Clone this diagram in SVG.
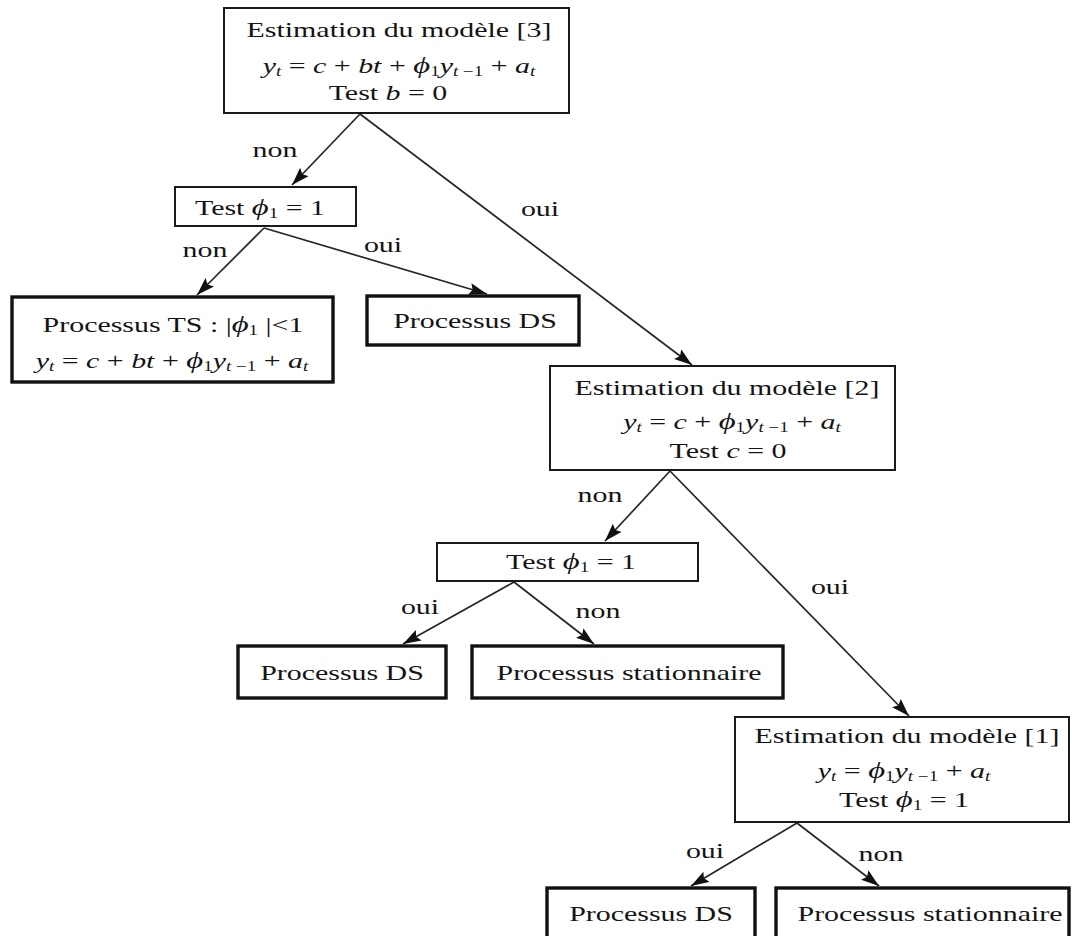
<svg xmlns="http://www.w3.org/2000/svg" width="1072" height="936" viewBox="0 0 1072 936">
<style>
text{font-family:"Liberation Serif","Times New Roman",serif;font-size:22px;fill:#141414;text-anchor:middle}
.i{font-style:italic}
.s{font-size:14px}
.p{font-size:24px;font-style:italic}
.box{fill:#fff;stroke:#1a1a1a;stroke-width:2}
.res{fill:#fff;stroke:#111;stroke-width:3.4}
.c{stroke:#262626;stroke-width:1.7;fill:none;marker-end:url(#ah)}
</style>
<defs>
<marker id="ah" markerUnits="userSpaceOnUse" markerWidth="20" markerHeight="14" refX="18" refY="6" orient="auto">
<path d="M0,0 L18,6 L0,12 L3,6 z" fill="#111"/>
</marker>
</defs>
<rect width="1072" height="936" fill="#fff"/>

<g id="connectors">
<line class="c" x1="360" y1="114" x2="292" y2="185"/>
<line class="c" x1="360" y1="114" x2="692" y2="365"/>
<line class="c" x1="264" y1="228" x2="197" y2="295"/>
<line class="c" x1="264" y1="228" x2="487" y2="294"/>
<line class="c" x1="670" y1="471" x2="605" y2="541"/>
<line class="c" x1="670" y1="471" x2="909" y2="716"/>
<line class="c" x1="514" y1="582" x2="403" y2="644"/>
<line class="c" x1="514" y1="582" x2="594" y2="644"/>
<line class="c" x1="797" y1="823" x2="691" y2="886"/>
<line class="c" x1="797" y1="823" x2="879" y2="886"/>
</g>

<g id="labels">
<text transform="translate(275,157) scale(1.36,1)">non</text>
<text transform="translate(540,216) scale(1.36,1)">oui</text>
<text transform="translate(205,257) scale(1.36,1)">non</text>
<text transform="translate(383,252) scale(1.36,1)">oui</text>
<text transform="translate(600,502) scale(1.36,1)">non</text>
<text transform="translate(830,594) scale(1.36,1)">oui</text>
<text transform="translate(420,614) scale(1.36,1)">oui</text>
<text transform="translate(598,618) scale(1.36,1)">non</text>
<text transform="translate(705,858) scale(1.36,1)">oui</text>
<text transform="translate(881,861) scale(1.36,1)">non</text>
</g>

<g id="model3">
<rect class="box" x="224" y="8" width="345" height="105"/>
<text transform="translate(399,37) scale(1.36,1)">Estimation du modèle [3]</text>
<text transform="translate(399,73) scale(1.36,1)"><tspan class="i">y</tspan><tspan class="s i" dy="3">t</tspan><tspan dy="-3"> = </tspan><tspan class="i">c</tspan> + <tspan class="i">bt</tspan> + <tspan class="p">ϕ</tspan><tspan class="s" dy="3">1</tspan><tspan class="i" dy="-3">y</tspan><tspan class="s" dy="3"><tspan class="i">t</tspan> −1</tspan><tspan dy="-3"> + </tspan><tspan class="i">a</tspan><tspan class="s i" dy="3">t</tspan></text>
<text transform="translate(388,100) scale(1.36,1)">Test <tspan class="i">b</tspan> = 0</text>
</g>

<g id="test1">
<rect class="box" x="175" y="187" width="181" height="39"/>
<text transform="translate(260,215) scale(1.36,1)">Test <tspan class="p">ϕ</tspan><tspan class="s" dy="3">1</tspan><tspan dy="-3"> = 1</tspan></text>
</g>

<g id="ts">
<rect class="res" x="12" y="297" width="321" height="85"/>
<text transform="translate(173,332) scale(1.36,1)">Processus TS : |<tspan class="p">ϕ</tspan><tspan class="s" dy="3">1</tspan><tspan dy="-3"> |&lt;1</tspan></text>
<text transform="translate(172,368) scale(1.36,1)"><tspan class="i">y</tspan><tspan class="s i" dy="3">t</tspan><tspan dy="-3"> = </tspan><tspan class="i">c</tspan> + <tspan class="i">bt</tspan> + <tspan class="p">ϕ</tspan><tspan class="s" dy="3">1</tspan><tspan class="i" dy="-3">y</tspan><tspan class="s" dy="3"><tspan class="i">t</tspan> −1</tspan><tspan dy="-3"> + </tspan><tspan class="i">a</tspan><tspan class="s i" dy="3">t</tspan></text>
</g>

<g id="ds1">
<rect class="res" x="367" y="296" width="212" height="49"/>
<text transform="translate(475,328) scale(1.36,1)">Processus DS</text>
</g>

<g id="model2">
<rect class="box" x="550" y="366" width="345" height="104"/>
<text transform="translate(727,395) scale(1.36,1)">Estimation du modèle [2]</text>
<text transform="translate(732,429) scale(1.36,1)"><tspan class="i">y</tspan><tspan class="s i" dy="3">t</tspan><tspan dy="-3"> = </tspan><tspan class="i">c</tspan> + <tspan class="p">ϕ</tspan><tspan class="s" dy="3">1</tspan><tspan class="i" dy="-3">y</tspan><tspan class="s" dy="3"><tspan class="i">t</tspan> −1</tspan><tspan dy="-3"> + </tspan><tspan class="i">a</tspan><tspan class="s i" dy="3">t</tspan></text>
<text transform="translate(728,458) scale(1.36,1)">Test <tspan class="i">c</tspan> = 0</text>
</g>

<g id="test2">
<rect class="box" x="437" y="543" width="261" height="38"/>
<text transform="translate(571,569) scale(1.36,1)">Test <tspan class="p">ϕ</tspan><tspan class="s" dy="3">1</tspan><tspan dy="-3"> = 1</tspan></text>
</g>

<g id="ds2">
<rect class="res" x="238" y="646" width="208" height="52"/>
<text transform="translate(342,680) scale(1.36,1)">Processus DS</text>
</g>

<g id="stat2">
<rect class="res" x="472" y="646" width="311" height="52"/>
<text transform="translate(629,680) scale(1.36,1)">Processus stationnaire</text>
</g>

<g id="model1">
<rect class="box" x="735" y="717" width="334" height="105"/>
<text transform="translate(907,743) scale(1.36,1)">Estimation du modèle [1]</text>
<text transform="translate(904,778) scale(1.36,1)"><tspan class="i">y</tspan><tspan class="s i" dy="3">t</tspan><tspan dy="-3"> =  </tspan><tspan class="p">ϕ</tspan><tspan class="s" dy="3">1</tspan><tspan class="i" dy="-3">y</tspan><tspan class="s" dy="3"><tspan class="i">t</tspan> −1</tspan><tspan dy="-3"> + </tspan><tspan class="i">a</tspan><tspan class="s i" dy="3">t</tspan></text>
<text transform="translate(904,807) scale(1.36,1)">Test  <tspan class="p">ϕ</tspan><tspan class="s" dy="3">1</tspan><tspan dy="-3"> = 1</tspan></text>
</g>

<g id="ds3">
<rect class="res" x="547" y="888" width="208" height="60"/>
<text transform="translate(651,921) scale(1.36,1)">Processus DS</text>
</g>

<g id="stat3">
<rect class="res" x="776" y="888" width="293" height="60"/>
<text transform="translate(930,921) scale(1.36,1)">Processus stationnaire</text>
</g>
</svg>
